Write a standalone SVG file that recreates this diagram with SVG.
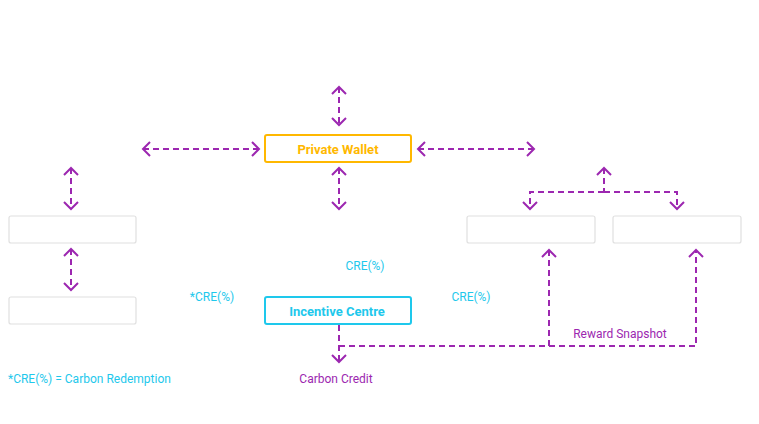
<svg xmlns="http://www.w3.org/2000/svg" width="759" height="424" viewBox="0 0 759 424">
<defs>
<marker id="chev" viewBox="-8 -8 10 16" markerWidth="10" markerHeight="16" refX="0" refY="0" orient="auto-start-reverse" markerUnits="userSpaceOnUse">
<path d="M-7,-7 L0,0 L-7,7" fill="none" stroke="#9C27B0" stroke-width="2"/>
</marker>
</defs>
<style>
.c{fill:none;stroke:#9C27B0;stroke-width:2;stroke-dasharray:6 4}
.ph{fill:#fff;stroke:#e0e0e0;stroke-width:1.2}
.t{font-family:Roboto,"Liberation Sans",sans-serif;font-size:12px}
.cy{fill:#1EC8EC}
.pu{fill:#9C27B0}
.b{font-weight:bold;font-size:13px}
</style>
<rect width="759" height="424" fill="#fff"/>
<g id="connectors">
<path class="c" d="M339,87 V125" marker-start="url(#chev)" marker-end="url(#chev)"/>
<path class="c" d="M339,168 V209" marker-start="url(#chev)" marker-end="url(#chev)"/>
<path class="c" d="M143,149 H259" marker-start="url(#chev)" marker-end="url(#chev)"/>
<path class="c" d="M418,149 H534" marker-start="url(#chev)" marker-end="url(#chev)"/>
<path class="c" d="M71,168 V209" marker-start="url(#chev)" marker-end="url(#chev)"/>
<path class="c" d="M71,249 V290" marker-start="url(#chev)" marker-end="url(#chev)"/>
<path class="c" d="M604,168 V192" marker-start="url(#chev)"/>
<path class="c" d="M604,192 H530 V209" marker-end="url(#chev)"/>
<path class="c" d="M604,192 H677 V209" marker-end="url(#chev)"/>
<path class="c" d="M339,325 V362" marker-end="url(#chev)"/>
<path class="c" d="M339,346 H696 V250" marker-end="url(#chev)"/>
<path class="c" d="M549,346 V250" marker-end="url(#chev)"/>
</g>
<g id="private-wallet">
<rect x="265" y="135" width="146" height="27" rx="2" fill="#fff" stroke="#FFB800" stroke-width="2"/>
<text class="t b" x="338" y="153.5" text-anchor="middle" fill="#FFB800">Private Wallet</text>
</g>
<g id="incentive-centre">
<rect x="265" y="297" width="146" height="27" rx="2" fill="#fff" stroke="#1EC8EC" stroke-width="2"/>
<text class="t b cy" x="337" y="315.5" text-anchor="middle">Incentive Centre</text>
</g>
<g id="left-box-1"><rect class="ph" x="9" y="216" width="127" height="27" rx="2"/></g>
<g id="left-box-2"><rect class="ph" x="9" y="297" width="127" height="27" rx="2"/></g>
<g id="right-box-1"><rect class="ph" x="467" y="216" width="128" height="27" rx="2"/></g>
<g id="right-box-2"><rect class="ph" x="613" y="216" width="128" height="27" rx="2"/></g>
<g id="labels">
<text class="t cy" x="365" y="270" text-anchor="middle">CRE(%)</text>
<text class="t cy" x="212" y="301" text-anchor="middle">*CRE(%)</text>
<text class="t cy" x="471" y="301" text-anchor="middle">CRE(%)</text>
<text class="t pu" x="620" y="338" text-anchor="middle">Reward Snapshot</text>
<text class="t pu" x="336" y="383" text-anchor="middle">Carbon Credit</text>
<text class="t cy" x="8" y="383">*CRE(%) = Carbon Redemption</text>
</g>
</svg>
